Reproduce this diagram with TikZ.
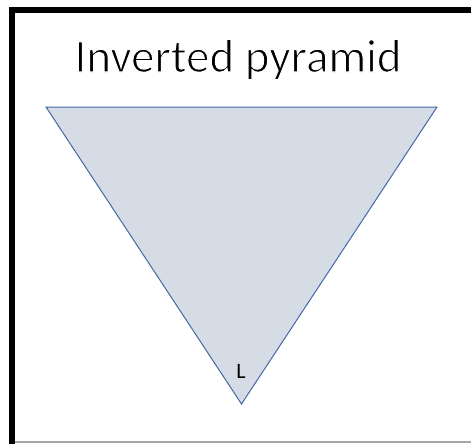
\documentclass[tikz,border=0pt]{standalone}
\usepackage{fontspec}
\setmainfont{Carlito}
\definecolor{trifill}{RGB}{214,220,229}
\definecolor{triline}{RGB}{68,104,166}
\newcommand{\lighttext}[1]{\special{pdf:literal direct q 2 Tr 1.1 w 1 1 1 RG}#1\special{pdf:literal direct Q}}
\tikzset{
  frame/.style={line width=6pt, black},
  tri/.style={fill=trifill, draw=triline, line width=1pt, line join=miter},
}
\begin{document}
\begin{tikzpicture}[x=1pt,y=-1pt]
\useasboundingbox (0,0) rectangle (471,444);
\draw[gray!70, line width=1.5pt] (12,442) -- (471,442);
\draw[frame] (12,444) -- (12,10) -- (475,10);
\coordinate (tl) at (46,107);
\coordinate (tr) at (437,107);
\coordinate (bt) at (241.5,404);
\filldraw[tri] (tl) -- (tr) -- (bt) -- cycle;
\node[font=\fontsize{47}{52}\selectfont, anchor=base] (title) at (238,72) {\lighttext{Inverted pyramid}};
\node[font=\fontsize{22}{24}\selectfont, anchor=base] (lab) at (241,378) {L};
\end{tikzpicture}
\end{document}
